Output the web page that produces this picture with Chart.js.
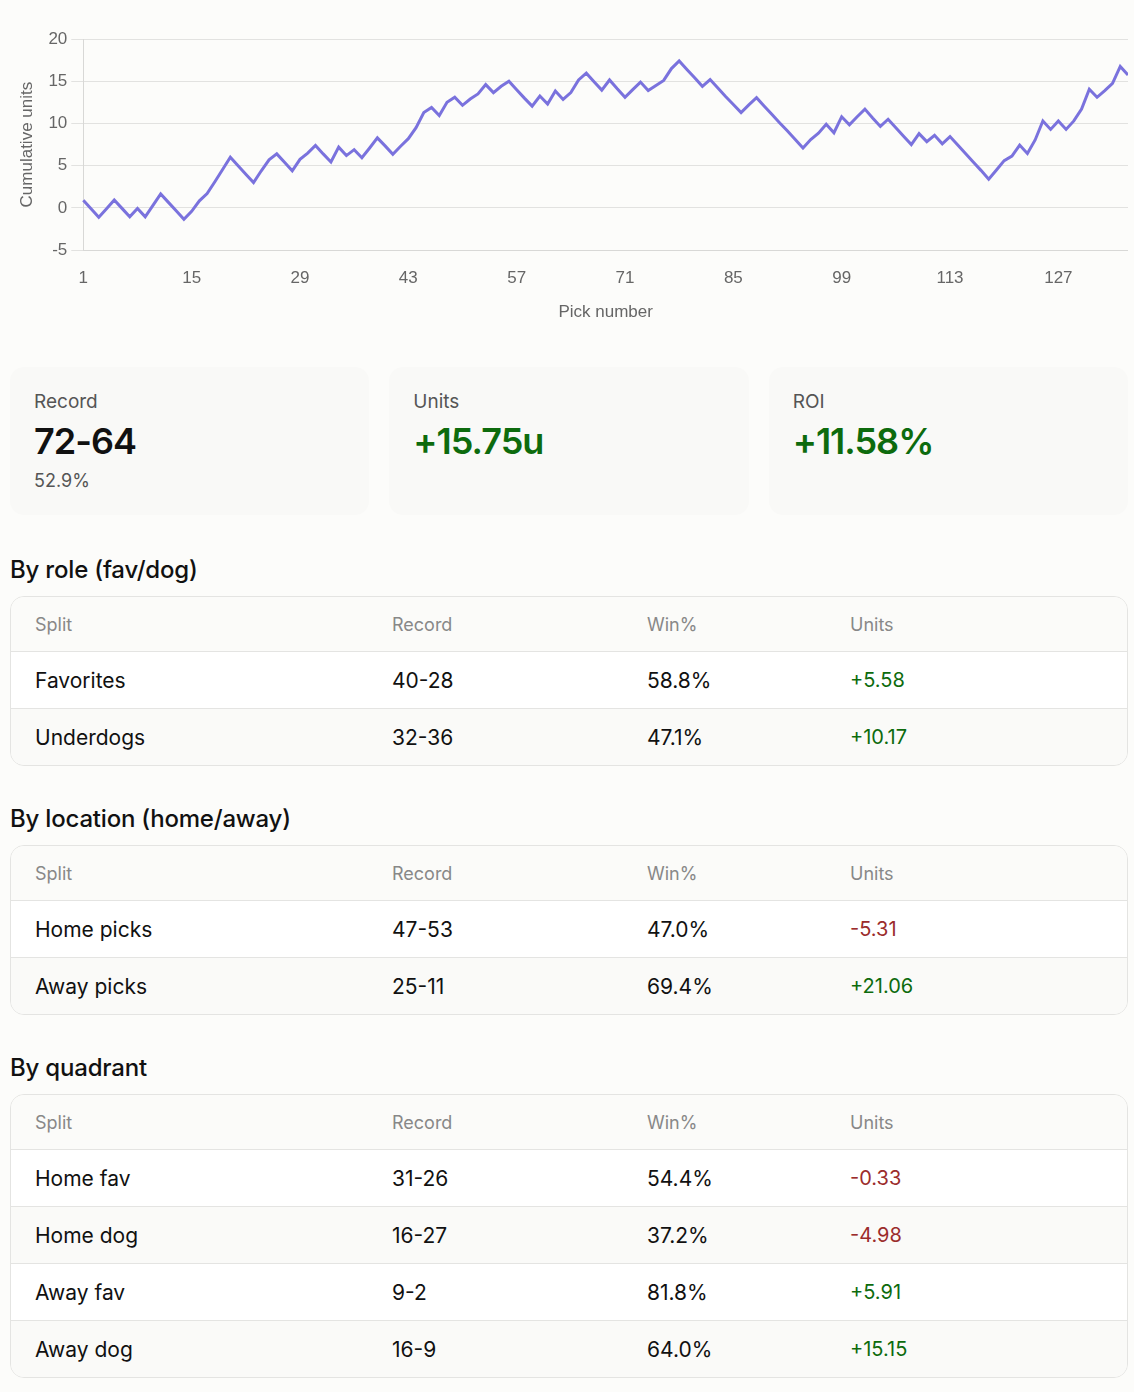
<!DOCTYPE html>
<html>
<head>
<meta charset="utf-8">
<script src="https://cdn.jsdelivr.net/npm/chart.js@4"></script>
<style>
  body { margin: 0; background: #fcfcfa; font-family: Inter, "Noto Sans", sans-serif; color: #111; }
  .wrap { width: 1118px; margin-left: 10px; }
  .chart-box { position: relative; width: 1128px; height: 327px; }
  .cards { display: grid; grid-template-columns: 1fr 1fr 1fr; gap: 20px; margin-top: 40px; }
  .card { background: #f9f9f7; border-radius: 14px; height: 148px; padding: 23px 24px; box-sizing: border-box; }
  .card .lbl { font-size: 19px; color: #555; }
  .card .val { font-size: 36px; font-weight: 600; margin-top: 6px; letter-spacing: -1px; }
  .card .sub { font-size: 18px; color: #555; margin-top: 7px; }
  .pos { color: #0d6b0d; }
  .neg { color: #9b2c2c; }
  h2 { font-size: 24px; font-weight: 500; margin: 38px 0 12px 0; letter-spacing: -0.2px; }
  h2:first-child { margin-top: 40px; }
  table { width: 100%; border-collapse: separate; border-spacing: 0; border: 1px solid #e4e4e2; border-radius: 14px; overflow: hidden; }
  th, td { text-align: left; padding: 0 0 0 24px; }
  th { font-weight: 400; color: #888; font-size: 18px; height: 54px; background: #fbfbf9; }
  td { font-size: 21px; height: 56px; border-top: 1px solid #e4e4e2; background: #fff; }
  tr:nth-child(odd) td { background: #fafaf8; }
  td.pos, td.neg { font-size: 20px; }
</style>
</head>
<body>
<div class="chart-box"><canvas id="cumChart"></canvas></div>
<div class="wrap">
  <div class="cards">
    <div class="card"><div class="lbl">Record</div><div class="val" id="recVal"></div><div class="sub" id="recPct"></div></div>
    <div class="card"><div class="lbl">Units</div><div class="val pos" id="unitsVal"></div></div>
    <div class="card"><div class="lbl">ROI</div><div class="val pos" id="roiVal"></div></div>
  </div>
  <div id="tables"></div>
</div>
<script>
// cumulative units after each pick
const cumUnits = [
  0.91, -0.09, -1.09, -0.1, 0.95, -0.05, -1.05, -0.05, -1.05, 0.3,
  1.66, 0.66, -0.34, -1.34, -0.4, 0.85, 1.7, 3.1, 4.55, 6.0,
  5.0, 4.0, 3.0, 4.4, 5.7, 6.4, 5.4, 4.4, 5.75, 6.5,
  7.4, 6.4, 5.45, 7.2, 6.2, 6.9, 5.95, 7.1, 8.3, 7.35,
  6.35, 7.3, 8.2, 9.5, 11.3, 11.9, 10.95, 12.5, 13.1, 12.15,
  12.9, 13.5, 14.6, 13.65, 14.4, 15.0, 14.0, 13.0, 12.05, 13.25,
  12.3, 13.85, 12.85, 13.65, 15.15, 15.95, 14.95, 13.95, 15.15, 14.1,
  13.1, 14.0, 14.9, 13.9, 14.5, 15.1, 16.5, 17.4, 16.4, 15.4,
  14.4, 15.2, 14.2, 13.2, 12.25, 11.3, 12.2, 13.05, 12.05, 11.05,
  10.05, 9.1, 8.1, 7.1, 8.1, 8.85, 9.9, 8.9, 10.8, 9.85,
  10.8, 11.7, 10.65, 9.65, 10.5, 9.5, 8.5, 7.5, 8.8, 7.85,
  8.6, 7.6, 8.45, 7.45, 6.45, 5.45, 4.45, 3.4, 4.5, 5.6,
  6.15, 7.45, 6.45, 8.05, 10.3, 9.3, 10.3, 9.3, 10.3, 11.7,
  14.05, 13.1, 13.9, 14.75, 16.75, 15.75
];
const pickLabels = cumUnits.map((v, i) => String(i + 1));
const yTicks = [-5, 0, 5, 10, 15, 20];

// summary
const record = "72-64";
const winPct = "52.9%";
const unitsTotal = "+15.75u";
const roi = "+11.58%";

// split tables
const splitHeaders = ["Split", "Record", "Win%", "Units"];
const roleRows = [["Favorites", "40-28", "58.8%", "+5.58"], ["Underdogs", "32-36", "47.1%", "+10.17"]];
const locationRows = [["Home picks", "47-53", "47.0%", "-5.31"], ["Away picks", "25-11", "69.4%", "+21.06"]];
const quadrantRows = [
  ["Home fav", "31-26", "54.4%", "-0.33"],
  ["Home dog", "16-27", "37.2%", "-4.98"],
  ["Away fav", "9-2", "81.8%", "+5.91"],
  ["Away dog", "16-9", "64.0%", "+15.15"]
];

document.getElementById("recVal").textContent = record;
document.getElementById("recPct").textContent = winPct;
document.getElementById("unitsVal").textContent = unitsTotal;
document.getElementById("roiVal").textContent = roi;

function buildTable(title, rows) {
  let html = `<h2>${title}</h2><table><colgroup><col style="width:357px"><col style="width:255px"><col style="width:203px"><col></colgroup><tr>`;
  html += splitHeaders.map(h => `<th>${h}</th>`).join("") + "</tr>";
  rows.forEach(r => {
    const cls = r[3].startsWith("-") ? "neg" : "pos";
    html += `<tr><td>${r[0]}</td><td>${r[1]}</td><td>${r[2]}</td><td class="${cls}">${r[3]}</td></tr>`;
  });
  return html + "</table>";
}
document.getElementById("tables").innerHTML =
  buildTable("By role (fav/dog)", roleRows) +
  buildTable("By location (home/away)", locationRows) +
  buildTable("By quadrant", quadrantRows);

// chart
const axisFont = { family: "'Liberation Sans', Arial, sans-serif", size: 17 };
new Chart(document.getElementById("cumChart"), {
  type: "line",
  data: {
    labels: pickLabels,
    datasets: [{
      data: cumUnits,
      borderColor: "#7a72dd",
      borderWidth: 3,
      pointRadius: 0,
      tension: 0,
      fill: false
    }]
  },
  options: {
    responsive: true,
    maintainAspectRatio: false,
    animation: false,
    layout: { padding: { top: 39, right: 0, left: 17, bottom: 0 } },
    plugins: { legend: { display: false }, tooltip: { enabled: false } },
    scales: {
      x: {
        grid: { display: false },
        border: { color: "#d8d8d6" },
        ticks: {
          color: "#666",
          font: axisFont,
          autoSkip: false,
          maxRotation: 0,
          padding: 10,
          callback: function (val, idx) { return idx % 14 === 0 ? pickLabels[idx] : null; }
        },
        title: { display: true, text: "Pick number", color: "#666", font: axisFont, padding: { top: 4 } }
      },
      y: {
        min: yTicks[0],
        max: yTicks[yTicks.length - 1],
        afterBuildTicks: axis => { axis.ticks = yTicks.map(v => ({ value: v })); },
        grid: { color: "#e2e2e0", lineWidth: 1, tickLength: 12 },
        border: { color: "#d8d8d6" },
        ticks: { color: "#666", font: axisFont, padding: 4 },
        title: { display: true, text: "Cumulative units", color: "#666", font: axisFont, padding: { top: 0, bottom: 7 } }
      }
    }
  }
});
</script>
</body>
</html>
